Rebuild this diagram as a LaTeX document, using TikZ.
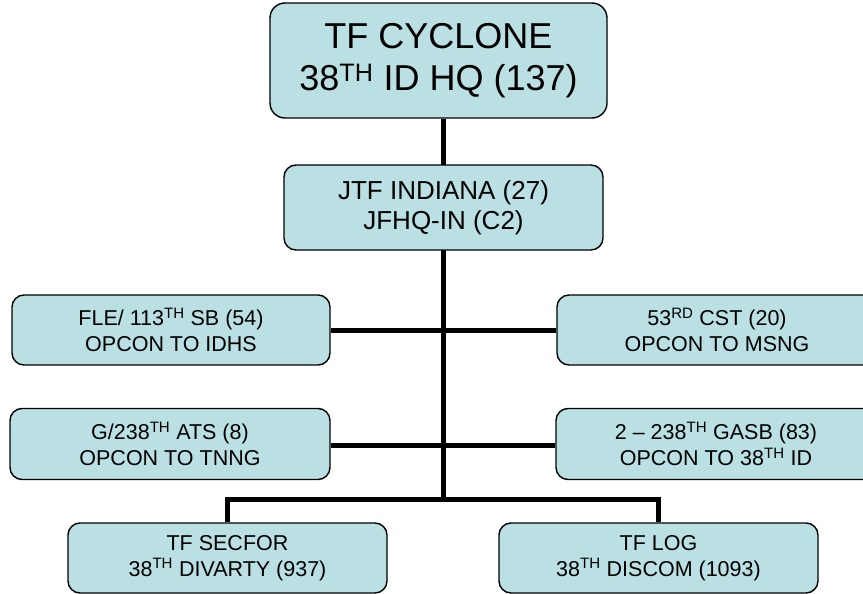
\documentclass[tikz,border=0pt]{standalone}
\usepackage{fontspec}
\setmainfont{Liberation Sans}
\usetikzlibrary{backgrounds}
\definecolor{boxfill}{RGB}{186,224,227}
\begin{document}
\begin{tikzpicture}[x=1pt,y=-1pt,
  orgbox/.style={draw=black, line width=1.4pt, fill=boxfill, rounded corners=12pt,
    align=center, inner sep=0pt},
  small/.style={orgbox, font=\fontsize{21.5}{26}\selectfont},
  link/.style={line width=5pt, black}]
\useasboundingbox (0,0) rectangle (863,594);
\node[orgbox, rounded corners=15pt, minimum width=337pt, minimum height=115pt,
  font=\fontsize{36}{42}\selectfont] (top) at (438.5,60.5) {TF CYCLONE\\38\textsuperscript{TH} ID HQ (137)};
\node[orgbox, minimum width=319pt, minimum height=85pt,
  font=\fontsize{26}{30}\selectfont] (jtf) at (443.5,207.5) {JTF INDIANA (27)\\JFHQ-IN (C2)};
\node[small, minimum width=318pt, minimum height=70pt] (l1) at (171,330) {FLE/ 113\textsuperscript{TH} SB (54)\\OPCON TO IDHS};
\node[small, minimum width=320pt, minimum height=70pt] (r1) at (717,330) {53\textsuperscript{RD} CST (20)\\OPCON TO MSNG};
\node[small, minimum width=320pt, minimum height=71pt] (l2) at (170,444) {G/238\textsuperscript{TH} ATS (8)\\OPCON TO TNNG};
\node[small, minimum width=320pt, minimum height=71pt] (r2) at (716,444) {2 -- 238\textsuperscript{TH} GASB (83)\\OPCON TO 38\textsuperscript{TH} ID};
\node[small, minimum width=319pt, minimum height=70pt] (b1) at (227.5,558) {TF SECFOR\\38\textsuperscript{TH} DIVARTY (937)};
\node[small, minimum width=319pt, minimum height=70pt] (b2) at (658.5,558) {TF LOG\\38\textsuperscript{TH} DISCOM (1093)};
\coordinate (spine) at (443,0);
\coordinate (bar) at (443,499);
\begin{scope}[on background layer]
\draw[link] (top.south -| spine) -- (bar);
\draw[link] (l1.east) -- (r1.west);
\draw[link] ([yshift=-1pt]l2.east) -- ([yshift=-1pt]r2.west);
\draw[link] (b1.north) |- (bar) -| (b2.north);
\end{scope}
\end{tikzpicture}
\end{document}
